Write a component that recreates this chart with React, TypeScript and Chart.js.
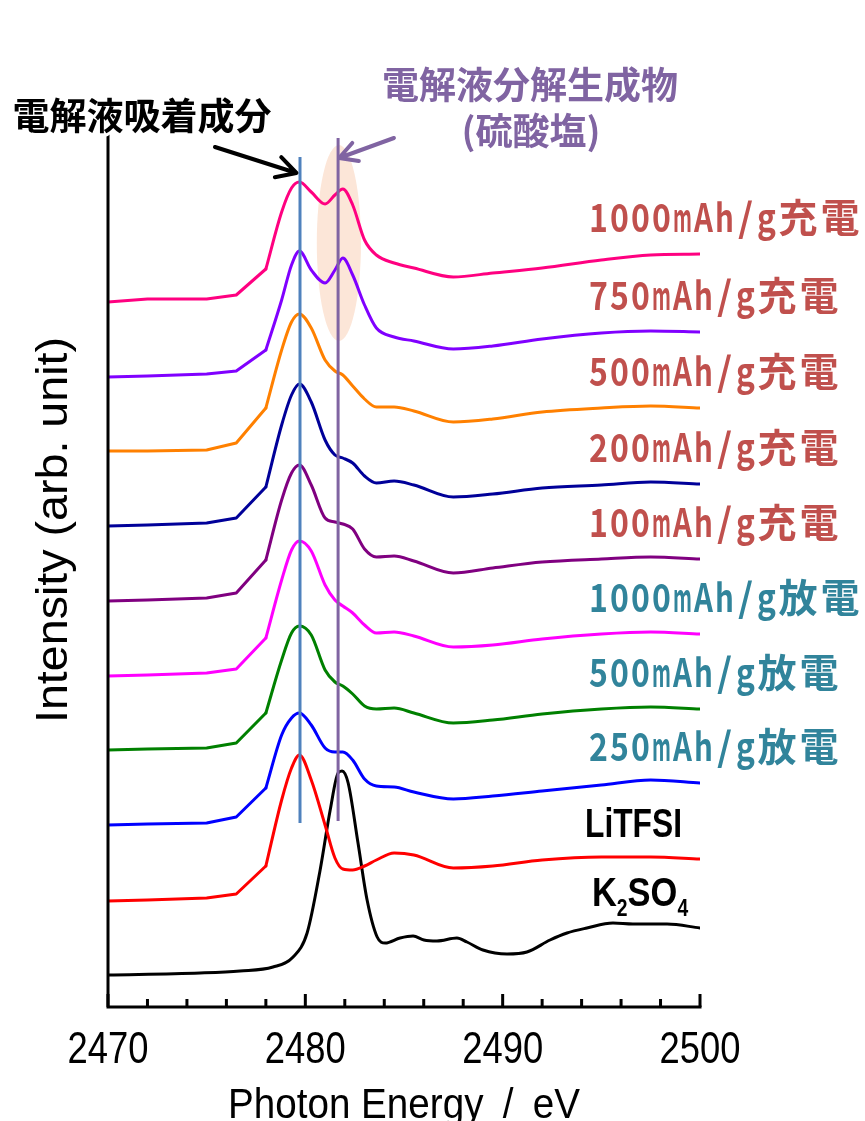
import React, { useEffect, useRef } from 'react';
import { Chart, registerables } from 'chart.js';
Chart.register(...registerables);

// Photon energy grid (eV) used by the battery / LiTFSI spectra
const energy = [2470, 2472, 2475, 2476.5, 2478, 2478.8, 2479.3, 2479.7, 2480.3, 2481.0, 2481.5, 2481.9, 2482.4, 2483.0, 2483.6, 2484.5, 2485.5, 2487.5, 2489.5, 2492, 2495, 2497.5, 2500];
// the measured points below this energy are joined by straight segments (coarse pre-edge step)
const preEdgeEnd = 2478;

// Stacked intensities (arb. unit, offset included)
const charge1000 = [7.05, 7.08, 7.08, 7.12, 7.38, 7.95, 8.19, 8.25, 8.15, 8.03, 8.12, 8.18, 8.02, 7.67, 7.52, 7.44, 7.39, 7.30, 7.34, 7.39, 7.47, 7.52, 7.53];
const charge750 = [6.30, 6.31, 6.33, 6.36, 6.57, 7.07, 7.42, 7.56, 7.37, 7.24, 7.37, 7.49, 7.32, 7.02, 6.79, 6.70, 6.66, 6.58, 6.61, 6.68, 6.74, 6.76, 6.75];
const charge500 = [5.56, 5.56, 5.57, 5.64, 5.99, 6.57, 6.85, 6.93, 6.79, 6.47, 6.36, 6.32, 6.21, 6.08, 6.00, 6.00, 5.96, 5.85, 5.88, 5.95, 5.99, 6.01, 5.99];
const charge200 = [4.81, 4.82, 4.84, 4.89, 5.20, 5.82, 6.12, 6.23, 6.05, 5.67, 5.52, 5.49, 5.44, 5.31, 5.24, 5.26, 5.22, 5.10, 5.13, 5.19, 5.22, 5.25, 5.23];
const charge100 = [4.06, 4.07, 4.09, 4.14, 4.47, 5.07, 5.34, 5.42, 5.22, 4.89, 4.85, 4.83, 4.78, 4.58, 4.50, 4.51, 4.46, 4.34, 4.39, 4.45, 4.48, 4.50, 4.48];
const discharge1000 = [3.31, 3.32, 3.34, 3.38, 3.69, 4.27, 4.57, 4.66, 4.56, 4.22, 4.07, 4.01, 3.94, 3.82, 3.74, 3.75, 3.71, 3.60, 3.62, 3.68, 3.73, 3.75, 3.73];
const discharge500 = [2.57, 2.58, 2.59, 2.64, 2.94, 3.47, 3.74, 3.81, 3.72, 3.37, 3.25, 3.21, 3.13, 3.01, 2.98, 2.99, 2.94, 2.84, 2.87, 2.93, 2.98, 3.00, 2.98];
const discharge250 = [1.82, 1.83, 1.84, 1.90, 2.19, 2.72, 2.89, 2.94, 2.82, 2.59, 2.55, 2.55, 2.47, 2.28, 2.21, 2.20, 2.15, 2.08, 2.11, 2.16, 2.22, 2.27, 2.24];
const litfsi = [1.06, 1.07, 1.09, 1.13, 1.41, 2.07, 2.39, 2.52, 2.27, 1.82, 1.49, 1.38, 1.37, 1.41, 1.47, 1.54, 1.52, 1.39, 1.41, 1.47, 1.50, 1.50, 1.48];

// K2SO4 reference spectrum (own energy grid)
const energyK2SO4 = [2470, 2474.66, 2476.69, 2478.36, 2479.38, 2480.09, 2480.75, 2481.26, 2481.66, 2481.86, 2482.17, 2482.67, 2483.13, 2483.64, 2484.05, 2484.8, 2485.46, 2486.01, 2486.67, 2487.68, 2488.19, 2489.0, 2490.22, 2491.23, 2492.4, 2493.26, 2494.27, 2495.59, 2496.6, 2498.33, 2500];
const k2so4 = [0.32, 0.34, 0.36, 0.40, 0.50, 0.74, 1.37, 1.97, 2.34, 2.36, 2.24, 1.64, 1.07, 0.70, 0.64, 0.69, 0.71, 0.67, 0.66, 0.69, 0.65, 0.57, 0.53, 0.55, 0.67, 0.74, 0.79, 0.84, 0.83, 0.83, 0.79];

const seriesNames = ['1000mAh/g充電', '750mAh/g充電', '500mAh/g充電', '200mAh/g充電', '100mAh/g充電', '1000mAh/g放電', '500mAh/g放電', '250mAh/g放電', 'LiTFSI', 'K2SO4'];
const seriesValues = [charge1000, charge750, charge500, charge200, charge100, discharge1000, discharge500, discharge250, litfsi];
const seriesColors = ['#FF0080', '#8000FF', '#FF8000', '#000099', '#800080', '#FF00FF', '#008000', '#0000FF', '#FF0000', '#000000'];
const labelColors = ['#C0504D', '#C0504D', '#C0504D', '#C0504D', '#C0504D', '#31849B', '#31849B', '#31849B', '#000000', '#000000'];

const xTicksMajor = [2470, 2480, 2490, 2500];
const xTicksMinor = [2472, 2474, 2476, 2478, 2482, 2484, 2486, 2488, 2492, 2494, 2496, 2498];
const xTitle = 'Photon Energy\u2002/\u2002eV';
const yTitle = 'Intensity (arb. unit)';

// reference lines: adsorbed electrolyte component / sulfate decomposition product
const markerEnergies = [2479.73, 2481.66];
const markerColors = ['#4F81BD', '#8064A2'];
const markerRanges = [[1.84, 8.5], [1.86, 8.69]];

const CJK = '"Noto Sans CJK JP", "Noto Sans", sans-serif';

function fitText(ctx: CanvasRenderingContext2D, text: string, x: number, y: number, font: string, width: number, color: string) {
  ctx.save();
  ctx.font = font;
  ctx.fillStyle = color;
  ctx.textAlign = 'center';
  ctx.textBaseline = 'alphabetic';
  const w = ctx.measureText(text).width;
  ctx.translate(x, y);
  ctx.scale(width / w, 1);
  ctx.fillText(text, 0, 0);
  ctx.restore();
}

function monoText(ctx: CanvasRenderingContext2D, text: string, x: number, baseline: number, size: number, half: number, color: string) {
  ctx.save();
  ctx.font = `bold ${size}px ${CJK}`;
  ctx.fillStyle = color;
  ctx.textAlign = 'center';
  ctx.textBaseline = 'alphabetic';
  let cx = x;
  for (const ch of Array.from(text)) {
    const full = ch.charCodeAt(0) > 0x2000;
    const cell = full ? half * 2 : half;
    const w = ctx.measureText(ch).width;
    const maxW = cell * (full ? 0.97 : 0.9);
    const s = w > maxW ? maxW / w : 1;
    ctx.save();
    ctx.translate(cx + cell / 2, baseline);
    ctx.scale(s, 1);
    ctx.fillText(ch, 0, 0);
    ctx.restore();
    cx += cell;
  }
  ctx.restore();
}

function arrow(ctx: CanvasRenderingContext2D, x1: number, y1: number, x2: number, y2: number, color: string, lw: number, head: number) {
  const a = Math.atan2(y2 - y1, x2 - x1);
  ctx.save();
  ctx.strokeStyle = color;
  ctx.lineWidth = lw;
  ctx.lineCap = 'round';
  ctx.lineJoin = 'round';
  ctx.beginPath();
  ctx.moveTo(x1, y1);
  ctx.lineTo(x2, y2);
  ctx.moveTo(x2 - head * Math.cos(a - 0.5), y2 - head * Math.sin(a - 0.5));
  ctx.lineTo(x2, y2);
  ctx.lineTo(x2 - head * Math.cos(a + 0.5), y2 - head * Math.sin(a + 0.5));
  ctx.stroke();
  ctx.restore();
}

const decorPlugin = {
  id: 'decor',
  beforeDatasetsDraw(chart: any) {
    const { ctx, scales } = chart;
    const xs = scales.x, ys = scales.y;
    const cx = xs.getPixelForValue(2481.7);
    const cy = ys.getPixelForValue(7.64);
    const rx = xs.getPixelForValue(2481.7 + 1.12) - cx;
    const ry = ys.getPixelForValue(7.64 - 0.98) - cy;
    ctx.save();
    ctx.fillStyle = '#FCE6D8';
    ctx.beginPath();
    ctx.ellipse(cx, cy, rx, ry, 0, 0, Math.PI * 2);
    ctx.fill();
    ctx.restore();
  },
  afterDatasetsDraw(chart: any) {
    const { ctx, scales, chartArea } = chart;
    const xs = scales.x, ys = scales.y;
    markerEnergies.forEach((e, i) => {
      const px = xs.getPixelForValue(e);
      ctx.save();
      ctx.strokeStyle = markerColors[i];
      ctx.lineWidth = 3;
      ctx.beginPath();
      ctx.moveTo(px, ys.getPixelForValue(markerRanges[i][1]));
      ctx.lineTo(px, ys.getPixelForValue(markerRanges[i][0]));
      ctx.stroke();
      ctx.restore();
    });
    const { left, right, top, bottom } = chartArea;
    ctx.save();
    ctx.strokeStyle = '#000';
    ctx.lineWidth = 3;
    ctx.lineCap = 'square';
    ctx.beginPath();
    ctx.moveTo(left, top);
    ctx.lineTo(left, bottom);
    ctx.lineTo(right, bottom);
    ctx.stroke();
    ctx.lineCap = 'butt';
    ctx.beginPath();
    xTicksMajor.forEach((t) => {
      const px = xs.getPixelForValue(t);
      ctx.moveTo(px, bottom);
      ctx.lineTo(px, bottom - 13);
    });
    xTicksMinor.forEach((t) => {
      const px = xs.getPixelForValue(t);
      ctx.moveTo(px, bottom);
      ctx.lineTo(px, bottom - 8);
    });
    ctx.stroke();
    ctx.restore();
    xTicksMajor.forEach((t) => {
      fitText(ctx, String(t), xs.getPixelForValue(t), bottom + 56, '44px "Liberation Sans", Arial, sans-serif', 81, '#000');
    });
    fitText(ctx, xTitle, (left + right) / 2, bottom + 111, '42px "Liberation Sans", Arial, sans-serif', 352, '#000');
    ctx.save();
    ctx.translate(67, 530);
    ctx.rotate(-Math.PI / 2);
    fitText(ctx, yTitle, 0, 0, '44px "Liberation Sans", Arial, sans-serif', 386, '#000');
    ctx.restore();

    const allValues = [...seriesValues, k2so4];
    seriesNames.forEach((name, i) => {
      const vals = allValues[i];
      const base = ys.getPixelForValue(vals[vals.length - 1]) - 22;
      if (name === 'LiTFSI') {
        fitText(ctx, name, 585 + 97 / 2, base, 'bold 40px "Liberation Sans", Arial, sans-serif', 97, labelColors[i]);
      } else if (name === 'K2SO4') {
        ctx.save();
        ctx.fillStyle = labelColors[i];
        ctx.textBaseline = 'alphabetic';
        ctx.textAlign = 'left';
        const s = 0.84;
        let x = 592;
        const parts: [string, number, number][] = [['K', 41, 0], ['2', 23, 10], ['SO', 41, 0], ['4', 23, 10]];
        parts.forEach(([t, size, dy]) => {
          ctx.font = `bold ${size}px "Liberation Sans", Arial, sans-serif`;
          const w = ctx.measureText(t).width;
          ctx.save();
          ctx.translate(x, base + dy);
          ctx.scale(s, 1);
          ctx.fillText(t, 0, 0);
          ctx.restore();
          x += w * s;
        });
        ctx.restore();
      } else {
        monoText(ctx, name, 588, base, 39, 21, labelColors[i]);
      }
    });

    ctx.save();
    ctx.textAlign = 'center';
    ctx.textBaseline = 'middle';
    ctx.font = `bold 37px ${CJK}`;
    ctx.lineJoin = 'round';
    ctx.strokeStyle = '#fff';
    ctx.lineWidth = 6;
    ctx.strokeText('電解液吸着成分', 142, 116);
    ctx.fillStyle = '#000';
    ctx.fillText('電解液吸着成分', 142, 116);
    ctx.fillStyle = '#8064A2';
    ctx.fillText('電解液分解生成物', 530, 85);
    ctx.fillText('(硫酸塩)', 531, 131);
    ctx.restore();

    arrow(ctx, xs.getPixelForValue(2475.42), ys.getPixelForValue(8.6), xs.getPixelForValue(2479.55), ys.getPixelForValue(8.34), '#000', 4, 22);
    arrow(ctx, xs.getPixelForValue(2484.49), ys.getPixelForValue(8.69), xs.getPixelForValue(2481.71), ys.getPixelForValue(8.49), '#8064A2', 4, 20);
  },
};

export default function App() {
  const ref = useRef<HTMLCanvasElement | null>(null);
  useEffect(() => {
    if (!ref.current) return;
    const datasets: any[] = [];
    seriesValues.forEach((vals, i) => {
      const pts = energy.map((e, j) => ({ x: e, y: vals[j] }));
      // pre-edge: straight segments
      datasets.push({
        label: seriesNames[i] + ' (pre-edge)',
        data: pts.filter((p) => p.x <= preEdgeEnd),
        borderColor: seriesColors[i],
        backgroundColor: seriesColors[i],
        tension: 0,
        cubicInterpolationMode: 'default',
      });
      // edge and post-edge: smooth curve
      datasets.push({
        label: seriesNames[i],
        data: pts.filter((p) => p.x >= preEdgeEnd),
        borderColor: seriesColors[i],
        backgroundColor: seriesColors[i],
        cubicInterpolationMode: 'monotone',
      });
    });
    datasets.push({
      label: seriesNames[9],
      data: energyK2SO4.map((e, j) => ({ x: e, y: k2so4[j] })),
      borderColor: seriesColors[9],
      backgroundColor: seriesColors[9],
      cubicInterpolationMode: 'monotone',
    });
    const chart = new Chart(ref.current, {
      type: 'line',
      data: { datasets },
      options: {
        responsive: false,
        maintainAspectRatio: false,
        animation: false,
        devicePixelRatio: 1,
        layout: { padding: { left: 108, right: 165, top: 130, bottom: 114 } },
        plugins: { legend: { display: false }, tooltip: { enabled: false } },
        scales: {
          x: { type: 'linear', min: 2470, max: 2500, display: false },
          y: { type: 'linear', min: 0, max: 8.77, display: false },
        },
        elements: {
          point: { radius: 0 },
          line: { borderWidth: 3, borderCapStyle: 'round', borderJoinStyle: 'round' },
        },
      },
      plugins: [decorPlugin],
    });
    if ((document as any).fonts && (document as any).fonts.ready) {
      (document as any).fonts.ready.then(() => chart.draw());
    }
    return () => chart.destroy();
  }, []);
  return (
    <div style={{ position: 'absolute', left: 0, top: 0, width: 865, height: 1121, background: '#fff' }}>
      <canvas ref={ref} width={865} height={1121} style={{ display: 'block' }} />
    </div>
  );
}
